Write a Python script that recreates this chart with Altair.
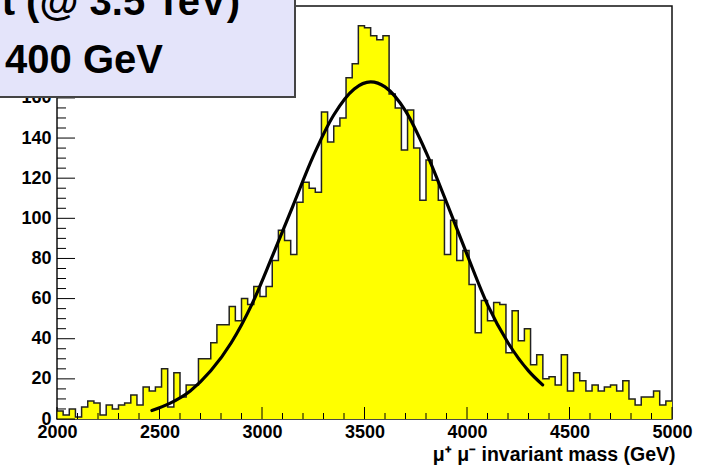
import altair as alt
import pandas as pd

# ---- data ----
BIN_START = 2000
BIN_WIDTH = 30
COUNTS = [4, 2, 5, 1, 6, 9, 8, 2, 7, 5,
          7, 8, 12, 7, 16, 14, 16, 25, 6, 23,
          11, 17, 17, 30, 30, 38, 47, 47, 56, 49,
          60, 57, 66, 61, 66, 79, 94, 89, 82, 108,
          118, 115, 113, 153, 138, 146, 150, 170, 177, 196,
          195, 191, 189, 191, 162, 155, 134, 154, 135, 109,
          129, 119, 109, 82, 99, 79, 84, 67, 43, 59,
          49, 58, 57, 33, 54, 39, 45, 27, 32, 20,
          21, 17, 32, 14, 23, 19, 14, 17, 14, 16,
          17, 14, 19, 10, 7, 11, 11, 14, 7, 9]

FIT_MASS = [2463, 2550, 2650, 2750, 2850, 2950, 3050, 3150, 3250, 3350, 3450,
            3530, 3600, 3700, 3800, 3900, 4000, 4100, 4200, 4300, 4369]
FIT_VALUE = [4.2, 7.8, 14.0, 24.0, 38.0, 57.0, 81.0, 106.0, 131.0, 151.5, 164.5,
             168.0, 165.5, 153.5, 133.0, 108.0, 82.0, 57.0, 38.0, 24.0, 17.0]

X_LABELS = [2000, 2500, 3000, 3500, 4000, 4500, 5000]
X_MINOR = [m for m in range(2000, 5001, 100) if m % 500 != 0]
Y_LABELS = [0, 20, 40, 60, 80, 100, 120, 140, 160, 180, 200]
Y_MINOR = [v for v in range(0, 206, 5) if v % 20 != 0]

TITLE_LINE1 = "Z′ mass point (@ 3.5 TeV)"
TITLE_LINE2 = "width 400 GeV"
X_TITLE = "μ⁺ μ⁻ invariant mass (GeV)"

X_DOMAIN = [2000, 5000]
Y_DOMAIN = [0, 205.8]

W, H = 615, 413
FONT = "Liberation Sans"

# ---- tables ----
edges = [BIN_START + BIN_WIDTH * i for i in range(len(COUNTS) + 1)]
hist = pd.DataFrame({"mass": edges, "count": COUNTS + [COUNTS[-1]]})
fit = pd.DataFrame({"mass": FIT_MASS, "value": FIT_VALUE})

xs = alt.Scale(domain=X_DOMAIN, nice=False, zero=False)
ys = alt.Scale(domain=Y_DOMAIN, nice=False, zero=False)

x_axis = alt.Axis(values=X_LABELS, format="d", labelFont=FONT, labelFontWeight="bold",
                  labelFontSize=18, labelColor="black", ticks=False, tickSize=0,
                  domain=False, grid=False, labelPadding=4, labelFlush=False,
                  title=X_TITLE, titleFont=FONT, titleFontWeight="bold", titleFontSize=19.5,
                  titleColor="black", titleAlign="right", titleX=W + 3, titleY=41,
                  titleBaseline="alphabetic")
y_axis = alt.Axis(values=Y_LABELS, format="d", labelFont=FONT, labelFontWeight="bold",
                  labelFontSize=18, labelColor="black", ticks=False, tickSize=0,
                  domain=False, grid=False, labelPadding=6, title=None)

area = alt.Chart(hist).mark_area(interpolate="step-after", color="#ffff00").encode(
    x=alt.X("mass:Q", scale=xs, axis=x_axis),
    y=alt.Y("count:Q", scale=ys, axis=y_axis),
)
outline = alt.Chart(hist).mark_line(interpolate="step-after", color="#222222",
                                    strokeWidth=1.5).encode(
    x=alt.X("mass:Q", scale=xs), y=alt.Y("count:Q", scale=ys))

ytick_major = alt.Chart(pd.DataFrame({"v": Y_LABELS})).mark_rule(color="black", strokeWidth=1).encode(
    y=alt.Y("v:Q", scale=ys), x=alt.value(0), x2=alt.value(18))
ytick_minor = alt.Chart(pd.DataFrame({"v": Y_MINOR})).mark_rule(color="black", strokeWidth=1).encode(
    y=alt.Y("v:Q", scale=ys), x=alt.value(0), x2=alt.value(9))
xtick_major = alt.Chart(pd.DataFrame({"v": X_LABELS})).mark_rule(color="black", strokeWidth=1).encode(
    x=alt.X("v:Q", scale=xs), y=alt.value(H), y2=alt.value(H - 12))
xtick_minor = alt.Chart(pd.DataFrame({"v": X_MINOR})).mark_rule(color="black", strokeWidth=1).encode(
    x=alt.X("v:Q", scale=xs), y=alt.value(H), y2=alt.value(H - 6))

curve = alt.Chart(fit).mark_line(interpolate="monotone", color="black", strokeWidth=3.2,
                                 strokeCap="round").encode(
    x=alt.X("mass:Q", scale=xs), y=alt.Y("value:Q", scale=ys))

one = alt.Data(values=[{"k": 1}])
box = alt.Chart(one).mark_rect(fill="#e4e4fa", stroke="#444444", strokeWidth=2).encode(
    x=alt.value(-90), x2=alt.value(238), y=alt.value(-40), y2=alt.value(91))
t1 = alt.Chart(one).mark_text(font=FONT, fontWeight="bold", fontSize=40, align="right",
                              baseline="alphabetic", color="black").encode(
    x=alt.value(183), y=alt.value(9), text=alt.value(TITLE_LINE1))
t2 = alt.Chart(one).mark_text(font=FONT, fontWeight="bold", fontSize=40, align="right",
                              baseline="alphabetic", color="black").encode(
    x=alt.value(106), y=alt.value(67), text=alt.value(TITLE_LINE2))

chart = alt.layer(area, outline, xtick_minor, xtick_major, ytick_minor, ytick_major,
                  curve, box, t1, t2).properties(
    width=W, height=H,
    autosize=alt.AutoSizeParams(type="none"),
    padding={"left": 57, "top": 6, "right": 38, "bottom": 51},
    background="white",
).configure_view(stroke="#111111", strokeWidth=1.5)

chart.save("out.html", embed_options={"renderer": "svg", "actions": False})
